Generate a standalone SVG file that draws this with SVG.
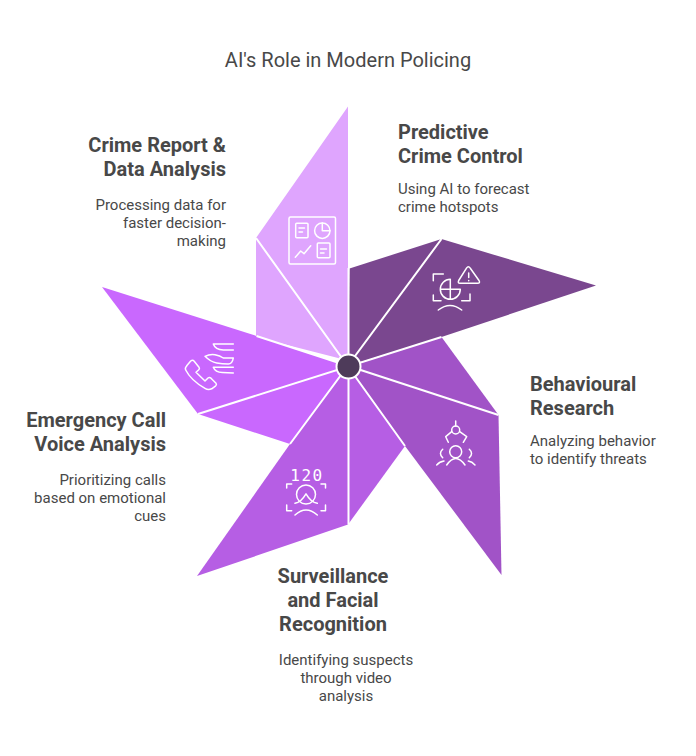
<svg xmlns="http://www.w3.org/2000/svg" width="696" height="756" viewBox="0 0 696 756">
<style>
text{font-family:Roboto,"Liberation Sans",sans-serif;fill:#484848}
.t{font-size:20px;font-weight:400}
.h{font-size:20px;font-weight:700}
.b{font-size:15px;font-weight:400}
.e{text-anchor:end}
.m{text-anchor:middle}
.sep{stroke:#fff;stroke-width:2;fill:none}
.i{stroke:#fff;stroke-width:1.5;fill:none;stroke-linecap:round;stroke-linejoin:round}
</style>
<rect width="696" height="756" fill="#fff"/>
<text class="t" x="348" y="67" text-anchor="middle">AI's Role in Modern Policing</text>
<g id="node-report">
<path d="M348 106.500L256 238V337L338 358L348 366Z" fill="#dfa5fe"/>
<g class="i"><rect x="289" y="217" width="46.500" height="47" rx="1.500"/><rect x="295.700" y="223.300" width="12.300" height="14.500" rx="1"/><path d="M299 228h5.500M299 232h3.500"/><circle cx="322.300" cy="230.700" r="7.700"/><path d="M322.300 223v7.700h7.700"/><path d="M295.300 257.300l5.400-6.300 3.300 2.700 6.700-8"/><rect x="317.300" y="243" width="12.700" height="14.700" rx="1"/><path d="M320.500 249h6M320.500 253h3.500"/></g>
<text class="h e" x="226" y="152">Crime Report &amp;</text><text class="h e" x="226" y="176">Data Analysis</text>
<text class="b e" x="226" y="210">Processing data for</text><text class="b e" x="226" y="228">faster decision-</text><text class="b e" x="226" y="246">making</text>
</g>
<g id="node-predictive">
<path d="M349.500 268.500L441.500 239L596 285.500L441.500 337L348 366Z" fill="#7a478f"/>
<g class="i"><path d="M443.300 274h-10v6.700M433.300 295v5.700h7.700M470 294v6.700h-8.300"/><path d="M450.300 279.300A10 10 0 1 0 460.300 289.300H440.300M450.300 279.300V299.300"/><path d="M438.300 310q11.700-9 23.400 0"/><path d="M468.300 266.700q1 0 2 1.500l8.700 12.300q1.500 2.800-1.500 2.800h-17.500q-2.500 0-1.300-2.800l7.800-12.300q1-1.500 1.800-1.500z"/><path d="M468.700 273v4.500M468.700 280.500v.3"/></g>
<text class="h" x="398" y="139">Predictive</text><text class="h" x="398" y="163">Crime Control</text>
<text class="b" x="398" y="194">Using AI to forecast</text><text class="b" x="398" y="212">crime hotspots</text>
</g>
<g id="node-behaviour">
<path d="M441.500 337L498.500 415L501.500 575L405 446L348 366Z" fill="#a153c7"/>
<g class="i"><path d="M455.700 421v5"/><circle cx="455.700" cy="430" r="4"/><path d="M451.700 431.700l-6 5 2.600 5.600M459.700 431.700l7 5-3.400 5.600"/><circle cx="455.700" cy="451.700" r="6"/><path d="M446.700 465q9-13 18.300 0"/><path d="M442.700 449.300q-4.500 4 0 8.400M469.300 449.300q4.500 4 0 8.400M436.700 465q3-3.500 7.300-4M475 465q-3-3.500-6.700-4"/></g>
<text class="h" x="530" y="391">Behavioural</text><text class="h" x="530" y="415">Research</text>
<text class="b" x="530" y="446">Analyzing behavior</text><text class="b" x="530" y="464">to identify threats</text>
</g>
<g id="node-surveillance">
<path d="M405 446L348 524.500L197 576L290 444L348 366Z" fill="#b65ee4"/>
<g class="i"><path d="M286.700 488v-4h5M325.500 488v-4h-4.500M286.700 505v5.700h5M325.500 505v5.700h-4.500"/><circle cx="306" cy="494.500" r="9.500"/><path d="M295 503.300q6-1 11-9.500 5 8.500 11.300 9.500"/><path d="M295 515q11-10 22.300 0"/></g>
<text x="307" y="481" font-size="16" class="m" style="font-family:'DejaVu Sans Mono',monospace;fill:#fff" letter-spacing="1.500">120</text>
<text class="h m" x="333" y="583">Surveillance</text><text class="h m" x="333" y="607">and Facial</text><text class="h m" x="333" y="631">Recognition</text>
<text class="b m" x="346" y="665">Identifying suspects</text><text class="b m" x="346" y="683">through video</text><text class="b m" x="346" y="701">analysis</text>
</g>
<g id="node-emergency">
<path d="M290 444L198 414L102 287L256.500 336L348 366Z" fill="#c968fe"/>
<g class="i"><path d="M186.700 365.700l4-4.700q2-1.500 3.500.2l4.800 6q1 1.500-.2 2.600l-2.800 2.500 9 8.700 3-3q1.500-1 3 .2l5 5q1 1.500-.3 2.600l-4 3q-3.500 1.500-6.700-.4-14-8-19.300-18.400-1-2 .9-3.700z"/><path d="M233.300 344h-20q2 5.700 10 6h10"/><path d="M205 356.300q5-2.500 10-1.600 5 1 8.300 3.300h10q-1 6-5 6-6 0-11.600-1-6-1-11.700-6.700z"/><path d="M233.300 367.300h-20q2 5 9 5.300l11 .4"/></g>
<text class="h e" x="166" y="427">Emergency Call</text><text class="h e" x="166" y="451">Voice Analysis</text>
<text class="b e" x="166" y="485">Prioritizing calls</text><text class="b e" x="166" y="503">based on emotional</text><text class="b e" x="166" y="521">cues</text>
</g>
<g id="connectors">
<path class="sep" d="M348.500 268V524.500M256 238L405 446M441.500 239L290 444M256.500 336L498.500 415M441.500 337L198 414"/>
</g>
<g id="node-hub"><circle cx="348.500" cy="366.500" r="12" fill="#4e3b5a" stroke="#fff" stroke-width="2"/></g>
</svg>
